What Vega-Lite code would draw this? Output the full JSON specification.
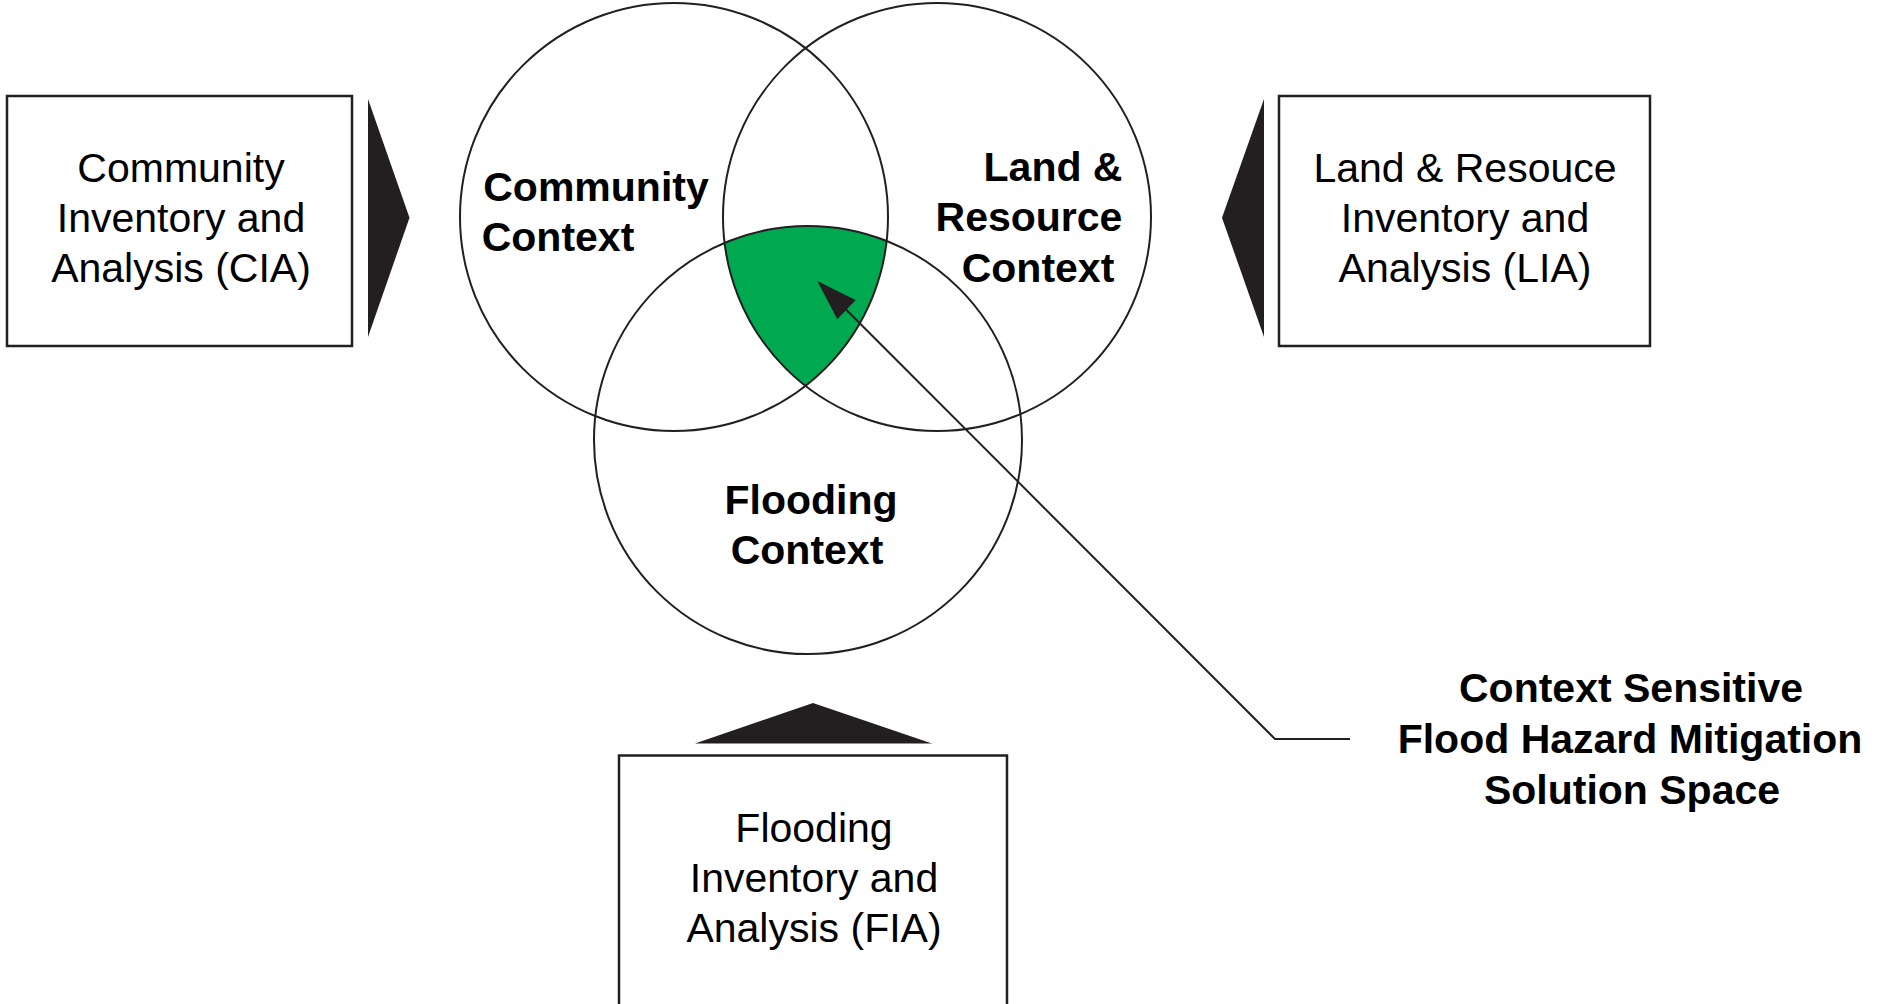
{
  "$schema": "https://vega.github.io/schema/vega-lite/v6.json",
  "width": 1879,
  "height": 1004,
  "padding": 0,
  "autosize": {"type": "none"},
  "background": "white",
  "config": {"view": {"stroke": null}},
  "datasets": {
    "region": [{"x": 805, "y": 310, "name": "Solution space"}],
    "circles": [
      {"name": "Community Context", "x": 674, "y": 217},
      {"name": "Land & Resource Context", "x": 937, "y": 217},
      {"name": "Flooding Context", "x": 808, "y": 440}
    ],
    "boxes": [
      {"name": "CIA", "x": 7, "x2": 352, "y": 96, "y2": 346},
      {"name": "LIA", "x": 1279, "x2": 1650, "y": 96, "y2": 346},
      {"name": "FIA", "x": 619, "x2": 1007, "y": 755.5, "y2": 1012}
    ],
    "wedges": [
      {"id": "CIA", "x": 368, "y": 99, "y2": 337},
      {"id": "CIA", "x": 409.5, "y": 217.7, "y2": 217.7},
      {"id": "LIA", "x": 1222, "y": 217.7, "y2": 217.7},
      {"id": "LIA", "x": 1264, "y": 99, "y2": 337},
      {"id": "head", "x": 817.3, "y": 281, "y2": 281},
      {"id": "head", "x": 837.3, "y": 290.9, "y2": 319.3},
      {"id": "head", "x": 855.7, "y": 300, "y2": 300}
    ],
    "wedgeUp": [
      {"id": "FIA", "y": 743.5, "x": 695, "x2": 932},
      {"id": "FIA", "y": 703, "x": 813, "x2": 813}
    ],
    "leader": [
      {"o": 1, "x": 846, "y": 309.5},
      {"o": 2, "x": 1275, "y": 739},
      {"o": 3, "x": 1350, "y": 739}
    ],
    "plainText": [
      {"text": "Community", "x": 181, "y": 182},
      {"text": "Inventory and", "x": 181, "y": 232},
      {"text": "Analysis (CIA)", "x": 181, "y": 282},
      {"text": "Land & Resouce", "x": 1465, "y": 182},
      {"text": "Inventory and", "x": 1465, "y": 232},
      {"text": "Analysis (LIA)", "x": 1465, "y": 282},
      {"text": "Flooding", "x": 814, "y": 842},
      {"text": "Inventory and", "x": 814, "y": 892},
      {"text": "Analysis (FIA)", "x": 814, "y": 942}
    ],
    "boldText": [
      {"text": "Community", "x": 596, "y": 201},
      {"text": "Context", "x": 558, "y": 251},
      {"text": "Land &", "x": 1053, "y": 181},
      {"text": "Resource", "x": 1029, "y": 231},
      {"text": "Context", "x": 1038, "y": 282},
      {"text": "Flooding", "x": 811, "y": 514},
      {"text": "Context", "x": 807, "y": 564},
      {"text": "Context Sensitive", "x": 1631, "y": 702},
      {"text": "Flood Hazard Mitigation", "x": 1630, "y": 753},
      {"text": "Solution Space", "x": 1632, "y": 804}
    ]
  },
  "layer": [
    {
      "data": {"name": "region"},
      "mark": {
        "type": "point",
        "shape": "M -80.5 -67 A 214 214 0 0 1 81.6 -69 A 214 214 0 0 1 0.5 75.8 A 214 214 0 0 1 -80.5 -67 Z",
        "size": 4,
        "filled": true,
        "fill": "#00a84f",
        "strokeWidth": 0,
        "opacity": 1
      },
      "encoding": {
        "x": {"field": "x", "type": "quantitative", "scale": {"domain": [0, 1879], "nice": false, "zero": false}, "axis": null},
        "y": {"field": "y", "type": "quantitative", "scale": {"domain": [0, 1004], "nice": false, "zero": false, "reverse": true}, "axis": null}
      }
    },
    {
      "data": {"name": "circles"},
      "mark": {"type": "point", "shape": "circle", "size": 183184, "filled": false, "stroke": "#231f20", "strokeWidth": 2, "opacity": 1},
      "encoding": {
        "x": {"field": "x", "type": "quantitative", "axis": null},
        "y": {"field": "y", "type": "quantitative", "axis": null}
      }
    },
    {
      "data": {"name": "boxes"},
      "mark": {"type": "rect", "fill": "white", "stroke": "#231f20", "strokeWidth": 2.5},
      "encoding": {
        "x": {"field": "x", "type": "quantitative", "axis": null},
        "x2": {"field": "x2"},
        "y": {"field": "y", "type": "quantitative", "axis": null},
        "y2": {"field": "y2"}
      }
    },
    {
      "data": {"name": "wedges"},
      "mark": {"type": "area", "fill": "#231f20", "opacity": 1, "orient": "vertical"},
      "encoding": {
        "x": {"field": "x", "type": "quantitative", "axis": null},
        "y": {"field": "y", "type": "quantitative", "axis": null},
        "y2": {"field": "y2"},
        "detail": {"field": "id"}
      }
    },
    {
      "data": {"name": "wedgeUp"},
      "mark": {"type": "area", "fill": "#231f20", "opacity": 1, "orient": "horizontal"},
      "encoding": {
        "y": {"field": "y", "type": "quantitative", "axis": null},
        "x": {"field": "x", "type": "quantitative", "axis": null},
        "x2": {"field": "x2"},
        "detail": {"field": "id"}
      }
    },
    {
      "data": {"name": "leader"},
      "mark": {"type": "line", "stroke": "#231f20", "strokeWidth": 2},
      "encoding": {
        "x": {"field": "x", "type": "quantitative", "axis": null},
        "y": {"field": "y", "type": "quantitative", "axis": null},
        "order": {"field": "o"}
      }
    },
    {
      "data": {"name": "plainText"},
      "mark": {"type": "text", "font": "Liberation Sans", "fontSize": 41, "fontWeight": "normal", "align": "center", "baseline": "alphabetic", "color": "#000000"},
      "encoding": {
        "x": {"field": "x", "type": "quantitative", "axis": null},
        "y": {"field": "y", "type": "quantitative", "axis": null},
        "text": {"field": "text"}
      }
    },
    {
      "data": {"name": "boldText"},
      "mark": {"type": "text", "font": "Liberation Sans", "fontSize": 41, "fontWeight": "bold", "align": "center", "baseline": "alphabetic", "color": "#000000"},
      "encoding": {
        "x": {"field": "x", "type": "quantitative", "axis": null},
        "y": {"field": "y", "type": "quantitative", "axis": null},
        "text": {"field": "text"}
      }
    }
  ]
}
